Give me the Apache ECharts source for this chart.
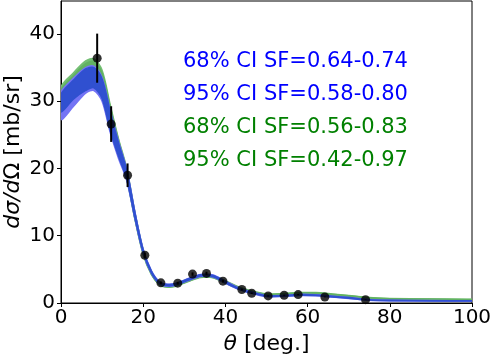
<!DOCTYPE html>
<html>
<head>
<meta charset="utf-8">
<script src="https://cdn.jsdelivr.net/npm/echarts@6/dist/echarts.min.js"></script>
<style>
  html, body { margin: 0; padding: 0; background: #fff; }
  #chart { width: 491px; height: 357px; }
</style>
</head>
<body>
<div id="chart"></div>
<script>
// angle grid of the bands (deg)
const theta = [0, 3, 6, 8, 10, 12, 14, 16, 18, 20, 22, 24, 26, 28, 31, 34, 37, 40, 43, 46, 50, 54, 58, 62, 66, 70, 75, 80, 90, 100]

// green bands (SF 0.42-0.97 / 0.56-0.83)
const green95Lo = [28.5, 30.5, 32.0, 32.3, 30.8, 26.0, 22.0, 18.4, 12.4, 7.2, 4.2, 2.7, 2.35, 2.5, 3.2, 3.8, 3.75, 2.95, 2.15, 1.6, 1.1, 1.15, 1.3, 1.3, 1.1, 0.9, 0.6, 0.5, 0.44, 0.4]
const green95Hi = [32.1, 34.2, 36.0, 36.3, 34.6, 29.4, 24.4, 20.0, 13.4, 7.9, 4.6, 3.0, 2.65, 2.8, 3.5, 4.1, 4.05, 3.3, 2.45, 1.85, 1.35, 1.4, 1.55, 1.55, 1.35, 1.12, 0.8, 0.68, 0.6, 0.55]
const green68Lo = [29.0, 31.0, 32.4, 32.7, 31.1, 26.3, 22.2, 18.6, 12.5, 7.3, 4.3, 2.75, 2.4, 2.55, 3.25, 3.85, 3.8, 3.0, 2.2, 1.62, 1.12, 1.18, 1.33, 1.33, 1.13, 0.93, 0.62, 0.52, 0.46, 0.42]
const green68Hi = [31.7, 33.8, 35.6, 35.9, 34.2, 29.1, 24.2, 19.8, 13.3, 7.8, 4.55, 2.95, 2.6, 2.75, 3.45, 4.05, 4.0, 3.25, 2.4, 1.8, 1.3, 1.35, 1.5, 1.5, 1.3, 1.08, 0.77, 0.65, 0.58, 0.53]

// blue bands (SF 0.58-0.80 / 0.64-0.74)
const blue95Lo = [27.3, 29.2, 31.2, 31.6, 30.0, 25.3, 21.5, 18.2, 12.5, 7.4, 4.4, 2.85, 2.5, 2.65, 3.35, 3.95, 3.85, 2.95, 2.1, 1.5, 0.97, 0.97, 1.12, 1.07, 0.88, 0.68, 0.42, 0.34, 0.3, 0.27]
const blue95Hi = [31.3, 33.4, 35.0, 35.2, 33.5, 28.6, 24.0, 19.9, 13.5, 8.0, 4.8, 3.15, 2.8, 2.95, 3.65, 4.25, 4.15, 3.25, 2.3, 1.7, 1.13, 1.13, 1.28, 1.23, 1.02, 0.82, 0.52, 0.42, 0.36, 0.33]
const blue68Lo = [28.4, 30.3, 31.6, 32.0, 30.4, 25.6, 21.8, 18.4, 12.6, 7.5, 4.45, 2.9, 2.55, 2.7, 3.4, 4.0, 3.9, 3.0, 2.12, 1.52, 1.0, 1.0, 1.15, 1.1, 0.9, 0.7, 0.44, 0.35, 0.31, 0.28]
const blue68Hi = [31.0, 33.1, 34.8, 35.0, 33.3, 28.4, 23.8, 19.7, 13.4, 7.9, 4.75, 3.1, 2.75, 2.9, 3.6, 4.2, 4.1, 3.2, 2.28, 1.68, 1.1, 1.1, 1.25, 1.2, 1.0, 0.8, 0.5, 0.41, 0.35, 0.32]

// measured points
const dataTheta = [8.8, 12.2, 16.2, 20.4, 24.3, 28.4, 32.0, 35.4, 39.4, 44.0, 46.4, 50.4, 54.3, 57.7, 64.2, 74.1]
const dataXs = [36.4, 26.6, 19.0, 7.1, 3.0, 2.95, 4.3, 4.4, 3.25, 2.0, 1.45, 1.05, 1.15, 1.25, 0.9, 0.5]
const dataErr = [3.65, 2.65, 1.75, 0.4, 0.2, 0.2, 0.25, 0.25, 0.2, 0.15, 0.1, 0.08, 0.08, 0.08, 0.06, 0.04]

const xTicks = [0, 20, 40, 60, 80, 100]
const yTicks = [0, 10, 20, 30, 40]

const labels = [
  { text: '68% CI SF=0.64-0.74', color: '#0000ff' },
  { text: '95% CI SF=0.58-0.80', color: '#0000ff' },
  { text: '68% CI SF=0.56-0.83', color: '#008000' },
  { text: '95% CI SF=0.42-0.97', color: '#008000' }
]

const FONT = 'DejaVu Sans'
var myChart = echarts.init(document.getElementById('chart'))

function bandSeries(lo, hi, color, z) {
  return {
    type: 'custom',
    clip: true,
    silent: true,
    z: z,
    data: [[theta[0], lo[0]]],
    renderItem(params, api) {
      const pts = []
      for (let i = 0; i < theta.length; i++) pts.push(api.coord([theta[i], hi[i]]))
      for (let i = theta.length - 1; i >= 0; i--) pts.push(api.coord([theta[i], lo[i]]))
      return {
        type: 'polygon',
        shape: { points: pts, smooth: 0.3 },
        style: { fill: color, stroke: color, lineWidth: 1.5 }
      }
    }
  }
}

const option = {
  animation: false,
  grid: {
    left: 61,
    right: 19,
    top: 1,
    bottom: 54,
    outerBoundsMode: 'none',
    containLabel: false,
    show: true,
    borderColor: '#000',
    borderWidth: 1,
    backgroundColor: 'transparent'
  },
  xAxis: {
    type: 'value',
    min: 0,
    max: 100,
    interval: 20,
    name: '{i|θ}{n| [deg.]}',
    nameLocation: 'middle',
    nameGap: 28,
    nameTextStyle: {
      rich: {
        i: { fontFamily: FONT, fontSize: 22, fontStyle: 'italic', color: '#000' },
        n: { fontFamily: FONT, fontSize: 22, color: '#000' }
      }
    },
    axisLine: { show: true, lineStyle: { color: '#000', width: 1 } },
    axisTick: { show: true, length: 4, lineStyle: { color: '#000' } },
    axisLabel: {
      fontFamily: FONT, fontSize: 20, color: '#000', margin: 5,
      formatter: v => xTicks.includes(v) ? String(v) : ''
    },
    splitLine: { show: false }
  },
  yAxis: {
    type: 'value',
    min: 0,
    max: 44.9,
    interval: 10,
    name: '{i|dσ/d}{n|Ω [mb/sr]}',
    nameLocation: 'middle',
    nameGap: 37,
    nameRotate: 90,
    nameMoveOverlap: false,
    nameTextStyle: {
      rich: {
        i: { fontFamily: FONT, fontSize: 22, fontStyle: 'italic', color: '#000' },
        n: { fontFamily: FONT, fontSize: 22, color: '#000' }
      }
    },
    axisLine: { show: true, lineStyle: { color: '#000', width: 1 } },
    axisTick: { show: true, length: 4, lineStyle: { color: '#000' } },
    axisLabel: {
      fontFamily: FONT, fontSize: 20, color: '#000', margin: 6,
      showMaxLabel: false,
      formatter: v => yTicks.includes(v) ? String(v) : ''
    },
    splitLine: { show: false }
  },
  graphic: labels.map((l, i) => ({
    type: 'text',
    left: 183,
    top: 51 + i * 33,
    silent: true,
    style: { text: l.text, fill: l.color, font: '21px "DejaVu Sans"' }
  })),
  series: [
    bandSeries(green95Lo, green95Hi, '#74bf74', 1),
    bandSeries(green68Lo, green68Hi, '#62b262', 2),
    bandSeries(blue95Lo, blue95Hi, '#7474f4', 3),
    bandSeries(blue68Lo, blue68Hi, '#3050d0', 4),
    {
      type: 'custom',
      silent: true,
      z: 5,
      data: dataTheta.map((x, i) => [x, dataXs[i] - dataErr[i], dataXs[i] + dataErr[i]]),
      renderItem(params, api) {
        const p1 = api.coord([api.value(0), api.value(1)])
        const p2 = api.coord([api.value(0), api.value(2)])
        return {
          type: 'line',
          shape: { x1: p1[0], y1: p1[1], x2: p2[0], y2: p2[1] },
          style: { stroke: '#000', lineWidth: 2 }
        }
      }
    },
    {
      type: 'scatter',
      silent: true,
      z: 6,
      symbol: 'circle',
      symbolSize: 9,
      itemStyle: { color: '#000' },
      data: dataTheta.map((x, i) => [x, dataXs[i]])
    }
  ]
}

myChart.setOption(option)
</script>
</body>
</html>
